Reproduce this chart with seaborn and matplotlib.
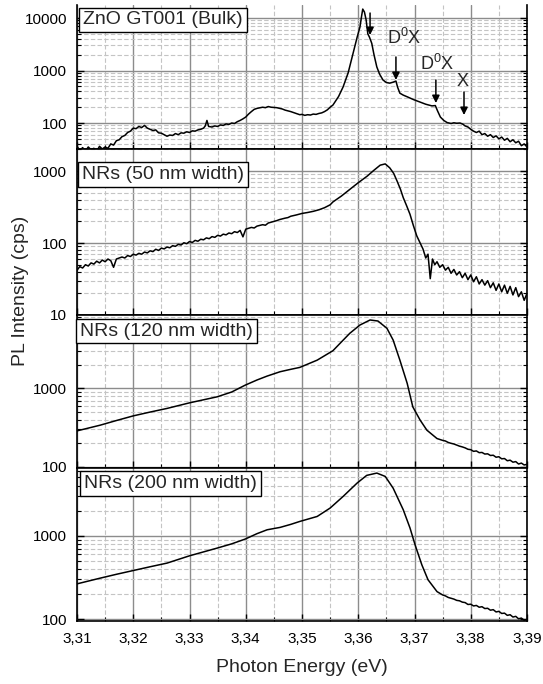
import matplotlib

matplotlib.use("Agg")

import matplotlib.pyplot as plt
import seaborn as sns
from matplotlib.ticker import FuncFormatter, LogLocator, MultipleLocator, NullFormatter


# ---- spectra: (photon energy eV, PL intensity cps) ----
bulk_points = [
    (3.3100, 36), (3.3105, 30), (3.3110, 34), (3.3115, 29), (3.3120, 35), (3.3125, 31),
    (3.3130, 33), (3.3135, 29), (3.3140, 36), (3.3145, 32), (3.3150, 35), (3.3155, 33),
    (3.3160, 40), (3.3165, 38), (3.3170, 46), (3.3175, 48), (3.3180, 55), (3.3185, 58),
    (3.3190, 66), (3.3195, 70), (3.3200, 80), (3.3205, 78), (3.3210, 86), (3.3215, 82),
    (3.3220, 90), (3.3225, 80), (3.3230, 76), (3.3235, 72), (3.3240, 74), (3.3245, 65),
    (3.3250, 64), (3.3255, 60), (3.3260, 56), (3.3265, 59), (3.3270, 58), (3.3275, 63),
    (3.3280, 60), (3.3285, 65), (3.3290, 64), (3.3295, 68), (3.3300, 66), (3.3305, 71),
    (3.3310, 70), (3.3315, 74), (3.3320, 76), (3.3325, 80), (3.3328, 88), (3.3331, 112),
    (3.3334, 86), (3.3340, 84), (3.3345, 88), (3.3350, 86), (3.3355, 92), (3.3360, 90),
    (3.3365, 96), (3.3370, 94), (3.3375, 100), (3.3380, 98), (3.3385, 106), (3.3390, 112),
    (3.3395, 120), (3.3400, 130), (3.3405, 148), (3.3410, 165), (3.3415, 182), (3.3420, 190),
    (3.3425, 195), (3.3430, 200), (3.3435, 196), (3.3440, 206), (3.3445, 200), (3.3450, 198),
    (3.3455, 196), (3.3460, 190), (3.3465, 185), (3.3470, 176), (3.3480, 165), (3.3490, 152),
    (3.3496, 144), (3.3500, 146), (3.3505, 140), (3.3510, 144), (3.3515, 142), (3.3520, 148),
    (3.3525, 146), (3.3530, 152), (3.3535, 156), (3.3540, 165), (3.3545, 178), (3.3550, 200),
    (3.3555, 220), (3.3565, 320), (3.3573, 485), (3.3582, 900), (3.3591, 2150), (3.3598, 4300),
    (3.3603, 6700), (3.3606, 11000), (3.3608, 14800), (3.3611, 13000), (3.3614, 9200),
    (3.3617, 5000), (3.3620, 4300), (3.3624, 3300), (3.3628, 2000), (3.3633, 1170),
    (3.3638, 850), (3.3644, 660), (3.3650, 590), (3.3656, 575), (3.3662, 600), (3.3667, 630),
    (3.3670, 480), (3.3674, 370), (3.3680, 340), (3.3687, 316), (3.3698, 280), (3.3710, 250),
    (3.3720, 228), (3.3731, 212), (3.3737, 215), (3.3741, 170), (3.3746, 130), (3.3752, 112),
    (3.3758, 102), (3.3765, 98), (3.3770, 101), (3.3775, 99), (3.3781, 100), (3.3786, 95),
    (3.3790, 88), (3.3795, 84), (3.3800, 76), (3.3805, 70), (3.3810, 66), (3.3815, 70),
    (3.3820, 60), (3.3825, 63), (3.3830, 56), (3.3835, 60), (3.3840, 53), (3.3845, 57),
    (3.3850, 50), (3.3855, 54), (3.3860, 47), (3.3865, 51), (3.3870, 44), (3.3875, 48),
    (3.3880, 42), (3.3885, 45), (3.3890, 37), (3.3895, 40), (3.3900, 35),
]

nr50_points = [
    (3.3100, 42), (3.3105, 47), (3.3110, 45), (3.3115, 50), (3.3120, 48), (3.3125, 53),
    (3.3130, 51), (3.3135, 56), (3.3140, 53), (3.3145, 58), (3.3150, 55), (3.3155, 60),
    (3.3160, 57), (3.3165, 46), (3.3170, 60), (3.3175, 62), (3.3180, 64), (3.3185, 62),
    (3.3190, 67), (3.3195, 65), (3.3200, 70), (3.3205, 68), (3.3210, 72), (3.3215, 70),
    (3.3220, 75), (3.3225, 73), (3.3230, 78), (3.3235, 76), (3.3240, 82), (3.3245, 79),
    (3.3250, 85), (3.3255, 83), (3.3260, 88), (3.3265, 86), (3.3270, 92), (3.3275, 90),
    (3.3280, 96), (3.3285, 94), (3.3290, 101), (3.3295, 98), (3.3300, 105), (3.3305, 102),
    (3.3310, 109), (3.3315, 106), (3.3320, 113), (3.3325, 111), (3.3330, 118), (3.3335, 115),
    (3.3340, 123), (3.3345, 120), (3.3350, 128), (3.3355, 125), (3.3360, 133), (3.3365, 130),
    (3.3370, 138), (3.3375, 135), (3.3380, 144), (3.3385, 140), (3.3390, 150), (3.3395, 122),
    (3.3400, 156), (3.3410, 165), (3.3415, 162), (3.3420, 172), (3.3430, 180), (3.3435, 177),
    (3.3440, 190), (3.3450, 200), (3.3455, 205), (3.3460, 212), (3.3470, 222), (3.3475, 226),
    (3.3480, 236), (3.3490, 246), (3.3500, 258), (3.3510, 266), (3.3520, 276), (3.3530, 290),
    (3.3540, 310), (3.3550, 340), (3.3555, 373), (3.3570, 450), (3.3585, 557), (3.3600, 690),
    (3.3616, 853), (3.3628, 1030), (3.3639, 1210), (3.3648, 1260), (3.3656, 1110),
    (3.3663, 930), (3.3669, 728), (3.3675, 560), (3.3680, 428), (3.3686, 330), (3.3692, 251),
    (3.3698, 175), (3.3704, 126), (3.3710, 100), (3.3715, 83), (3.3720, 62), (3.3724, 70),
    (3.3728, 32), (3.3732, 60), (3.3736, 50), (3.3740, 55), (3.3745, 46), (3.3750, 50),
    (3.3755, 42), (3.3760, 46), (3.3765, 38), (3.3770, 43), (3.3775, 36), (3.3780, 40),
    (3.3785, 33), (3.3790, 38), (3.3795, 31), (3.3800, 36), (3.3805, 29), (3.3810, 34),
    (3.3815, 27), (3.3820, 31), (3.3825, 26), (3.3830, 30), (3.3835, 24), (3.3840, 28),
    (3.3845, 22), (3.3850, 27), (3.3855, 21), (3.3860, 26), (3.3865, 20), (3.3870, 25),
    (3.3875, 19), (3.3880, 24), (3.3885, 18), (3.3890, 21), (3.3895, 16), (3.3900, 20),
]

nr120_points = [
    (3.3100, 288), (3.3141, 340), (3.3170, 390), (3.3200, 447), (3.3230, 500), (3.3260, 556),
    (3.3300, 655), (3.3349, 781), (3.3375, 900), (3.3399, 1100), (3.3420, 1280),
    (3.3438, 1435), (3.3461, 1630), (3.3480, 1750), (3.3496, 1850), (3.3527, 2290),
    (3.3555, 3020), (3.3570, 3900), (3.3585, 5030), (3.3603, 6410), (3.3621, 7430),
    (3.3635, 7210), (3.3651, 5820), (3.3662, 4130), (3.3674, 2290), (3.3687, 1160),
    (3.3697, 582), (3.3710, 395), (3.3722, 294), (3.3740, 230), (3.3750, 218), (3.3755, 214),
    (3.3760, 205), (3.3765, 200), (3.3770, 196), (3.3775, 190), (3.3780, 184), (3.3785, 180),
    (3.3790, 175), (3.3795, 168), (3.3800, 166), (3.3805, 158), (3.3810, 160), (3.3815, 152),
    (3.3820, 153), (3.3825, 146), (3.3830, 147), (3.3835, 140), (3.3840, 141), (3.3845, 133),
    (3.3850, 135), (3.3855, 127), (3.3860, 128), (3.3865, 120), (3.3870, 122), (3.3875, 115),
    (3.3880, 117), (3.3885, 109), (3.3890, 112), (3.3895, 106), (3.3900, 108),
]

nr200_points = [
    (3.3100, 265), (3.3141, 310), (3.3170, 345), (3.3200, 383), (3.3230, 425), (3.3260, 470),
    (3.3300, 575), (3.3349, 711), (3.3375, 800), (3.3399, 913), (3.3420, 1060),
    (3.3438, 1180), (3.3461, 1260), (3.3480, 1370), (3.3496, 1485), (3.3527, 1705),
    (3.3550, 2150), (3.3573, 2960), (3.3598, 4290), (3.3615, 5300), (3.3633, 5650),
    (3.3648, 5150), (3.3662, 3730), (3.3680, 2050), (3.3692, 1240), (3.3701, 780),
    (3.3713, 449), (3.3724, 297), (3.3740, 214), (3.3750, 195), (3.3755, 190), (3.3760, 182),
    (3.3765, 178), (3.3770, 174), (3.3775, 168), (3.3780, 166), (3.3785, 160), (3.3790, 158),
    (3.3795, 150), (3.3800, 151), (3.3805, 144), (3.3810, 146), (3.3815, 139), (3.3820, 141),
    (3.3825, 134), (3.3830, 135), (3.3835, 128), (3.3840, 130), (3.3845, 122), (3.3850, 124),
    (3.3855, 117), (3.3860, 118), (3.3865, 111), (3.3870, 113), (3.3875, 106), (3.3880, 108),
    (3.3885, 101), (3.3890, 103), (3.3895, 97), (3.3900, 99),
]

panel_labels = ["ZnO GT001 (Bulk)", "NRs (50 nm width)", "NRs (120 nm width)", "NRs (200 nm width)"]
panel_ylims = [(32, 17700), (10, 2030), (97, 8600), (95, 6500)]

# peak markers in the bulk panel
arrow_energies = [3.3621, 3.3667, 3.3738, 3.3788]
arrow_starts = [12450, 1810, 660, 390]
arrow_ends = [4740, 660, 240, 142]
peak_labels = [r"D$^0$X", r"D$^0$X", "X"]
peak_label_energies = [3.3651, 3.3710, 3.3785]
peak_label_values = [4150, 1330, 630]


sns.set_style("ticks")
plt.rcParams["font.family"] = ["Liberation Sans", "DejaVu Sans"]
plt.rcParams["mathtext.fontset"] = "custom"
plt.rcParams["mathtext.rm"] = "Liberation Sans"

W, H = 543, 684
fig = plt.figure(figsize=(W / 100, H / 100), dpi=100)

# panel boundaries in pixels (top, bottom)
panel_px = [(5, 149), (149, 315), (315, 468), (468, 621)]
left_px, right_px = 77, 527
label_pos = [(83, 20), (82, 174.5), (80, 331), (84, 483.5)]
series = [bulk_points, nr50_points, nr120_points, nr200_points]

axes = []
for i, (top, bottom) in enumerate(panel_px):
    ax = fig.add_axes([left_px / W, (H - bottom) / H, (right_px - left_px) / W, (bottom - top) / H])
    x = [p[0] for p in series[i]]
    y = [p[1] for p in series[i]]
    sns.lineplot(x=x, y=y, ax=ax, color="black", linewidth=1.1, estimator=None, sort=False)
    ax.set_yscale("log")
    ax.set_xlim(3.31, 3.39)
    ax.set_ylim(*panel_ylims[i])

    ax.xaxis.set_major_locator(MultipleLocator(0.01))
    ax.xaxis.set_minor_locator(MultipleLocator(0.005))
    ax.yaxis.set_major_locator(LogLocator(base=10))
    ax.yaxis.set_minor_locator(LogLocator(base=10, subs=range(2, 10)))
    ax.yaxis.set_major_formatter(FuncFormatter(lambda v, _: f"{v:.0f}"))
    ax.yaxis.set_minor_formatter(NullFormatter())
    ax.xaxis.set_major_formatter(FuncFormatter(lambda v, _: f"{v:.2f}".replace(".", ",")))

    ax.grid(which="major", color="#8c8c8c", linewidth=1.0, linestyle="-")
    ax.grid(which="minor", color="#c4c4c4", linewidth=0.8, linestyle=(0, (4, 2)))
    ax.set_axisbelow(True)

    ax.tick_params(which="both", direction="in", left=True, right=True, bottom=True, top=False,
                   labelsize=11, colors="black")
    ax.tick_params(which="major", length=5, width=1)
    ax.tick_params(which="minor", length=3, width=0.8)
    ax.tick_params(axis="y", pad=7)
    ax.tick_params(axis="x", pad=8)
    if i < 3:
        ax.tick_params(axis="x", labelbottom=False)

    for side in ["left", "right", "bottom", "top"]:
        ax.spines[side].set_color("black")
        ax.spines[side].set_linewidth(1.2)
    if i == 0:
        ax.spines["top"].set_visible(False)

    ax.set_xlabel("")
    ax.set_ylabel("")
    axes.append(ax)

    lx, ly = label_pos[i]
    fig.text(lx / W, 1 - ly / H, panel_labels[i], fontsize=14, ha="left", va="center",
             bbox=dict(boxstyle="square,pad=0.2", facecolor="white", edgecolor="black", linewidth=1))

# arrows and peak labels in the bulk panel
ax0 = axes[0]
for e, y0, y1 in zip(arrow_energies, arrow_starts, arrow_ends):
    ax0.annotate("", xy=(e, y1), xytext=(e, y0),
                 arrowprops=dict(arrowstyle="-|>", color="black", lw=1.1, mutation_scale=11,
                                 shrinkA=0, shrinkB=0))
for text, e, v in zip(peak_labels, peak_label_energies, peak_label_values):
    ha = "center" if text == "X" else "left"
    ax0.text(e, v, text, fontsize=13, ha=ha, va="center")

fig.text(21 / W, 1 - 291 / H, "PL Intensity (cps)", rotation=90, fontsize=14, ha="center", va="center")
fig.text(301.5 / W, 1 - 668 / H, "Photon Energy (eV)", fontsize=14, ha="center", va="center")

fig.savefig("out.png", dpi=100)
